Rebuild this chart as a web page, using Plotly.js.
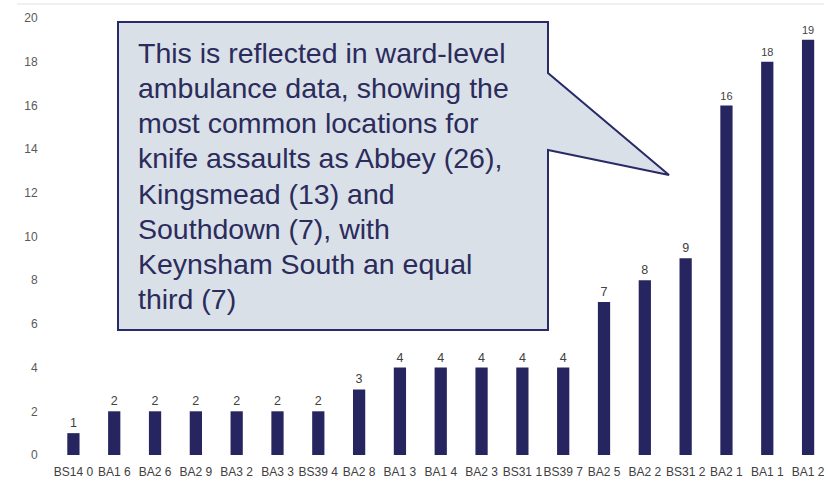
<!DOCTYPE html>
<html>
<head>
<meta charset="utf-8">
<script src="https://cdn.plot.ly/plotly-3.0.1.min.js"></script>
<style>html,body{margin:0;padding:0;background:#fff;}#chart{width:824px;height:480px;}</style>
</head>
<body>
<div id="chart"></div>
<script>
const postcodes = ["BS14 0","BA1 6","BA2 6","BA2 9","BA3 2","BA3 3","BS39 4","BA2 8","BA1 3","BA1 4","BA2 3","BS31 1","BS39 7","BA2 5","BA2 2","BS31 2","BA2 1","BA1 1","BA1 2"];
const counts = [1,2,2,2,2,2,2,3,4,4,4,4,4,7,8,9,16,18,19];
const yTicks = [0,2,4,6,8,10,12,14,16,18,20];
const calloutLines = ["This is reflected in ward-level","ambulance data, showing the","most common locations for","knife assaults as Abbey (26),","Kingsmead (13) and","Southdown (7), with","Keynsham South an equal","third (7)"];

const L = 53, R = 0, T = 18, B = 25, W = 824 - L - R, H = 480 - T - B;
const px = x => (x - L) / W;
const py = y => (480 - B - y) / H;
const pts = [[118,22],[548,22],[548,73],[669,175],[548,150],[548,330],[118,330]];
const path = pts.map((p,i) => (i ? "L" : "M") + px(p[0]).toFixed(5) + "," + py(p[1]).toFixed(5)).join(" ") + " Z";

const trace = {
  type: "bar",
  x: postcodes,
  y: counts,
  text: counts.map(String),
  textposition: "outside",
  cliponaxis: false,
  textfont: {family: "Liberation Sans, Arial, sans-serif", size: 12.5, color: "#404040"},
  marker: {color: "#27255f"},
  width: 0.3,
  hoverinfo: "x+y"
};

const lineY = [53, 88, 123, 158, 194, 229, 264, 299];
const annotations = calloutLines.map((t, i) => ({
  xref: "paper", yref: "paper", x: px(136), y: py(lineY[i]), xanchor: "left", yanchor: "middle",
  align: "left", showarrow: false, text: t,
  font: {family: "Liberation Sans, Arial, sans-serif", size: 28.5, color: "#2b2b5c"}
}));

const layout = {
  width: 824, height: 480,
  margin: {l: L, r: R, t: T, b: B, pad: 0},
  paper_bgcolor: "#ffffff", plot_bgcolor: "#ffffff",
  showlegend: false,
  xaxis: {
    type: "category",
    range: [-0.5, 18.39],
    showgrid: false, zeroline: false, showline: false,
    ticks: "outside", ticklen: 6, tickcolor: "rgba(0,0,0,0)",
    tickfont: {family: "Liberation Sans, Arial, sans-serif", size: 12, color: "#404040"},
    tickangle: 0
  },
  yaxis: {
    range: [0, 20],
    tickvals: yTicks,
    ticktext: yTicks.map(String),
    showgrid: false, zeroline: false, showline: false,
    ticks: "outside", ticklen: 12, tickcolor: "rgba(0,0,0,0)",
    tickfont: {family: "Liberation Sans, Arial, sans-serif", size: 12, color: "#595959"}
  },
  shapes: [
    {type: "line", xref: "paper", yref: "paper", x0: px(17), x1: px(824), y0: py(4), y1: py(4),
     line: {color: "#e2e2e2", width: 1}},
    {type: "path", xref: "paper", yref: "paper", path: path,
     fillcolor: "#d9e0e7", line: {color: "#2a2a68", width: 2}, layer: "above"}
  ],
  annotations: annotations
};

Plotly.newPlot("chart", [trace], layout, {displayModeBar: false, staticPlot: true});
</script>
</body>
</html>
